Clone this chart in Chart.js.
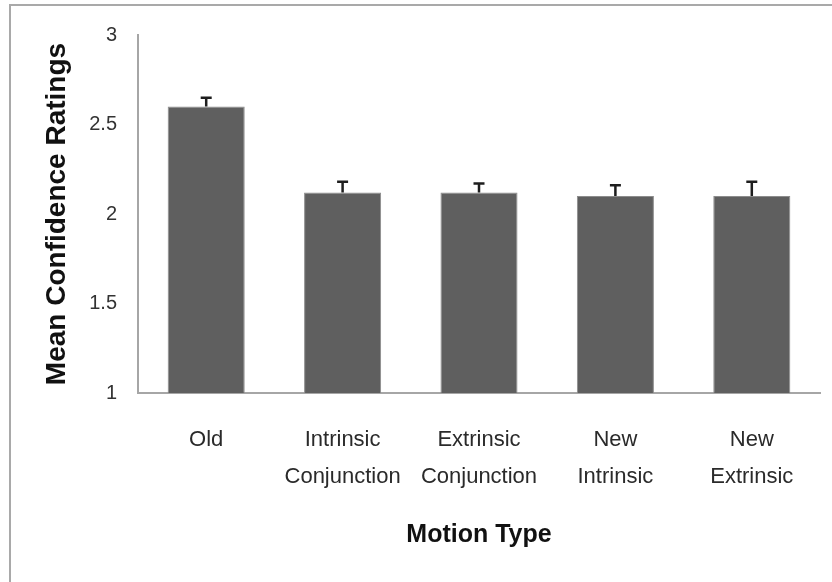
<!DOCTYPE html>
<html>
<head>
<meta charset="utf-8">
<script src="https://cdn.jsdelivr.net/npm/chart.js@4.4.1/dist/chart.umd.min.js"></script>
<style>
  html, body { margin: 0; padding: 0; background: #fff; overflow: hidden; }
  #wrap { position: relative; width: 832px; height: 582px; }
  #frame {
    position: absolute; left: 9px; top: 4px; width: 900px; height: 700px;
    border-left: 2px solid #a9a9a9; border-top: 2px solid #a9a9a9;
    pointer-events: none;
  }
  canvas { position: absolute; left: 0; top: 0; }
</style>
</head>
<body>
<div id="wrap">
  <canvas id="chart" width="832" height="582"></canvas>
  <div id="frame"></div>
</div>
<script>
"use strict";

const CATEGORIES = [
  ["Old"],
  ["Intrinsic", "Conjunction"],
  ["Extrinsic", "Conjunction"],
  ["New", "Intrinsic"],
  ["New", "Extrinsic"],
];
const MEANS = [2.6, 2.12, 2.12, 2.1, 2.1];
const ERRORS = [0.05, 0.06, 0.05, 0.06, 0.08];
const Y_TICKS = [1, 1.5, 2, 2.5, 3];

const FONT = "'Liberation Sans', Arial, sans-serif";

// upward-only error bars with a small cap
const errorBars = {
  id: "errorBars",
  afterDatasetsDraw(chart) {
    const meta = chart.getDatasetMeta(0);
    const yScale = chart.scales.y;
    const ctx = chart.ctx;
    ctx.save();
    ctx.strokeStyle = "#1e1e1e";
    ctx.lineWidth = 2.5;
    meta.data.forEach((bar, i) => {
      const x = bar.x;
      const yTop = yScale.getPixelForValue(MEANS[i] + ERRORS[i]);
      ctx.beginPath();
      ctx.moveTo(x, bar.y);
      ctx.lineTo(x, yTop);
      ctx.moveTo(x - 5.5, yTop);
      ctx.lineTo(x + 5.5, yTop);
      ctx.stroke();
    });
    ctx.restore();
  },
};

new Chart(document.getElementById("chart"), {
  type: "bar",
  data: {
    labels: CATEGORIES,
    datasets: [{
      data: MEANS,
      backgroundColor: "#5f5f5f",
      borderColor: "#8c8c8c",
      borderWidth: 1,
      barPercentage: 0.565,
      categoryPercentage: 1,
    }],
  },
  options: {
    responsive: false,
    animation: false,
    layout: { padding: { top: 35, right: 12, left: 0, bottom: 0 } },
    plugins: {
      legend: { display: false },
      tooltip: { enabled: false },
    },
    scales: {
      x: {
        grid: { drawOnChartArea: false, drawTicks: false },
        border: { display: true, color: "#a6a6a6", width: 2 },
        ticks: {
          color: "#2a2a2a",
          padding: 28,
          maxRotation: 0,
          autoSkip: false,
          font: { family: FONT, size: 22, lineHeight: 1.68 },
        },
        title: {
          display: true,
          text: "Motion Type",
          color: "#111",
          padding: { top: 0, bottom: 32 },
          font: { family: FONT, size: 25, weight: "bold", lineHeight: 1.2 },
        },
        afterFit(scale) { scale.height = 189; },
      },
      y: {
        min: 1,
        max: 3,
        afterBuildTicks(scale) {
          scale.ticks = Y_TICKS.map((v) => ({ value: v }));
        },
        grid: { drawOnChartArea: false, drawTicks: false },
        border: { display: true, color: "#a6a6a6", width: 2 },
        ticks: {
          color: "#333",
          padding: 21,
          font: { family: FONT, size: 20 },
          callback: (value) => String(value),
        },
        title: {
          display: true,
          text: "Mean Confidence Ratings",
          color: "#111",
          padding: { top: 40, bottom: 0 },
          font: { family: FONT, size: 28, weight: "bold", lineHeight: 1.2 },
        },
        afterFit(scale) { scale.width = 138; },
      },
    },
  },
  plugins: [errorBars],
});
</script>
</body>
</html>
